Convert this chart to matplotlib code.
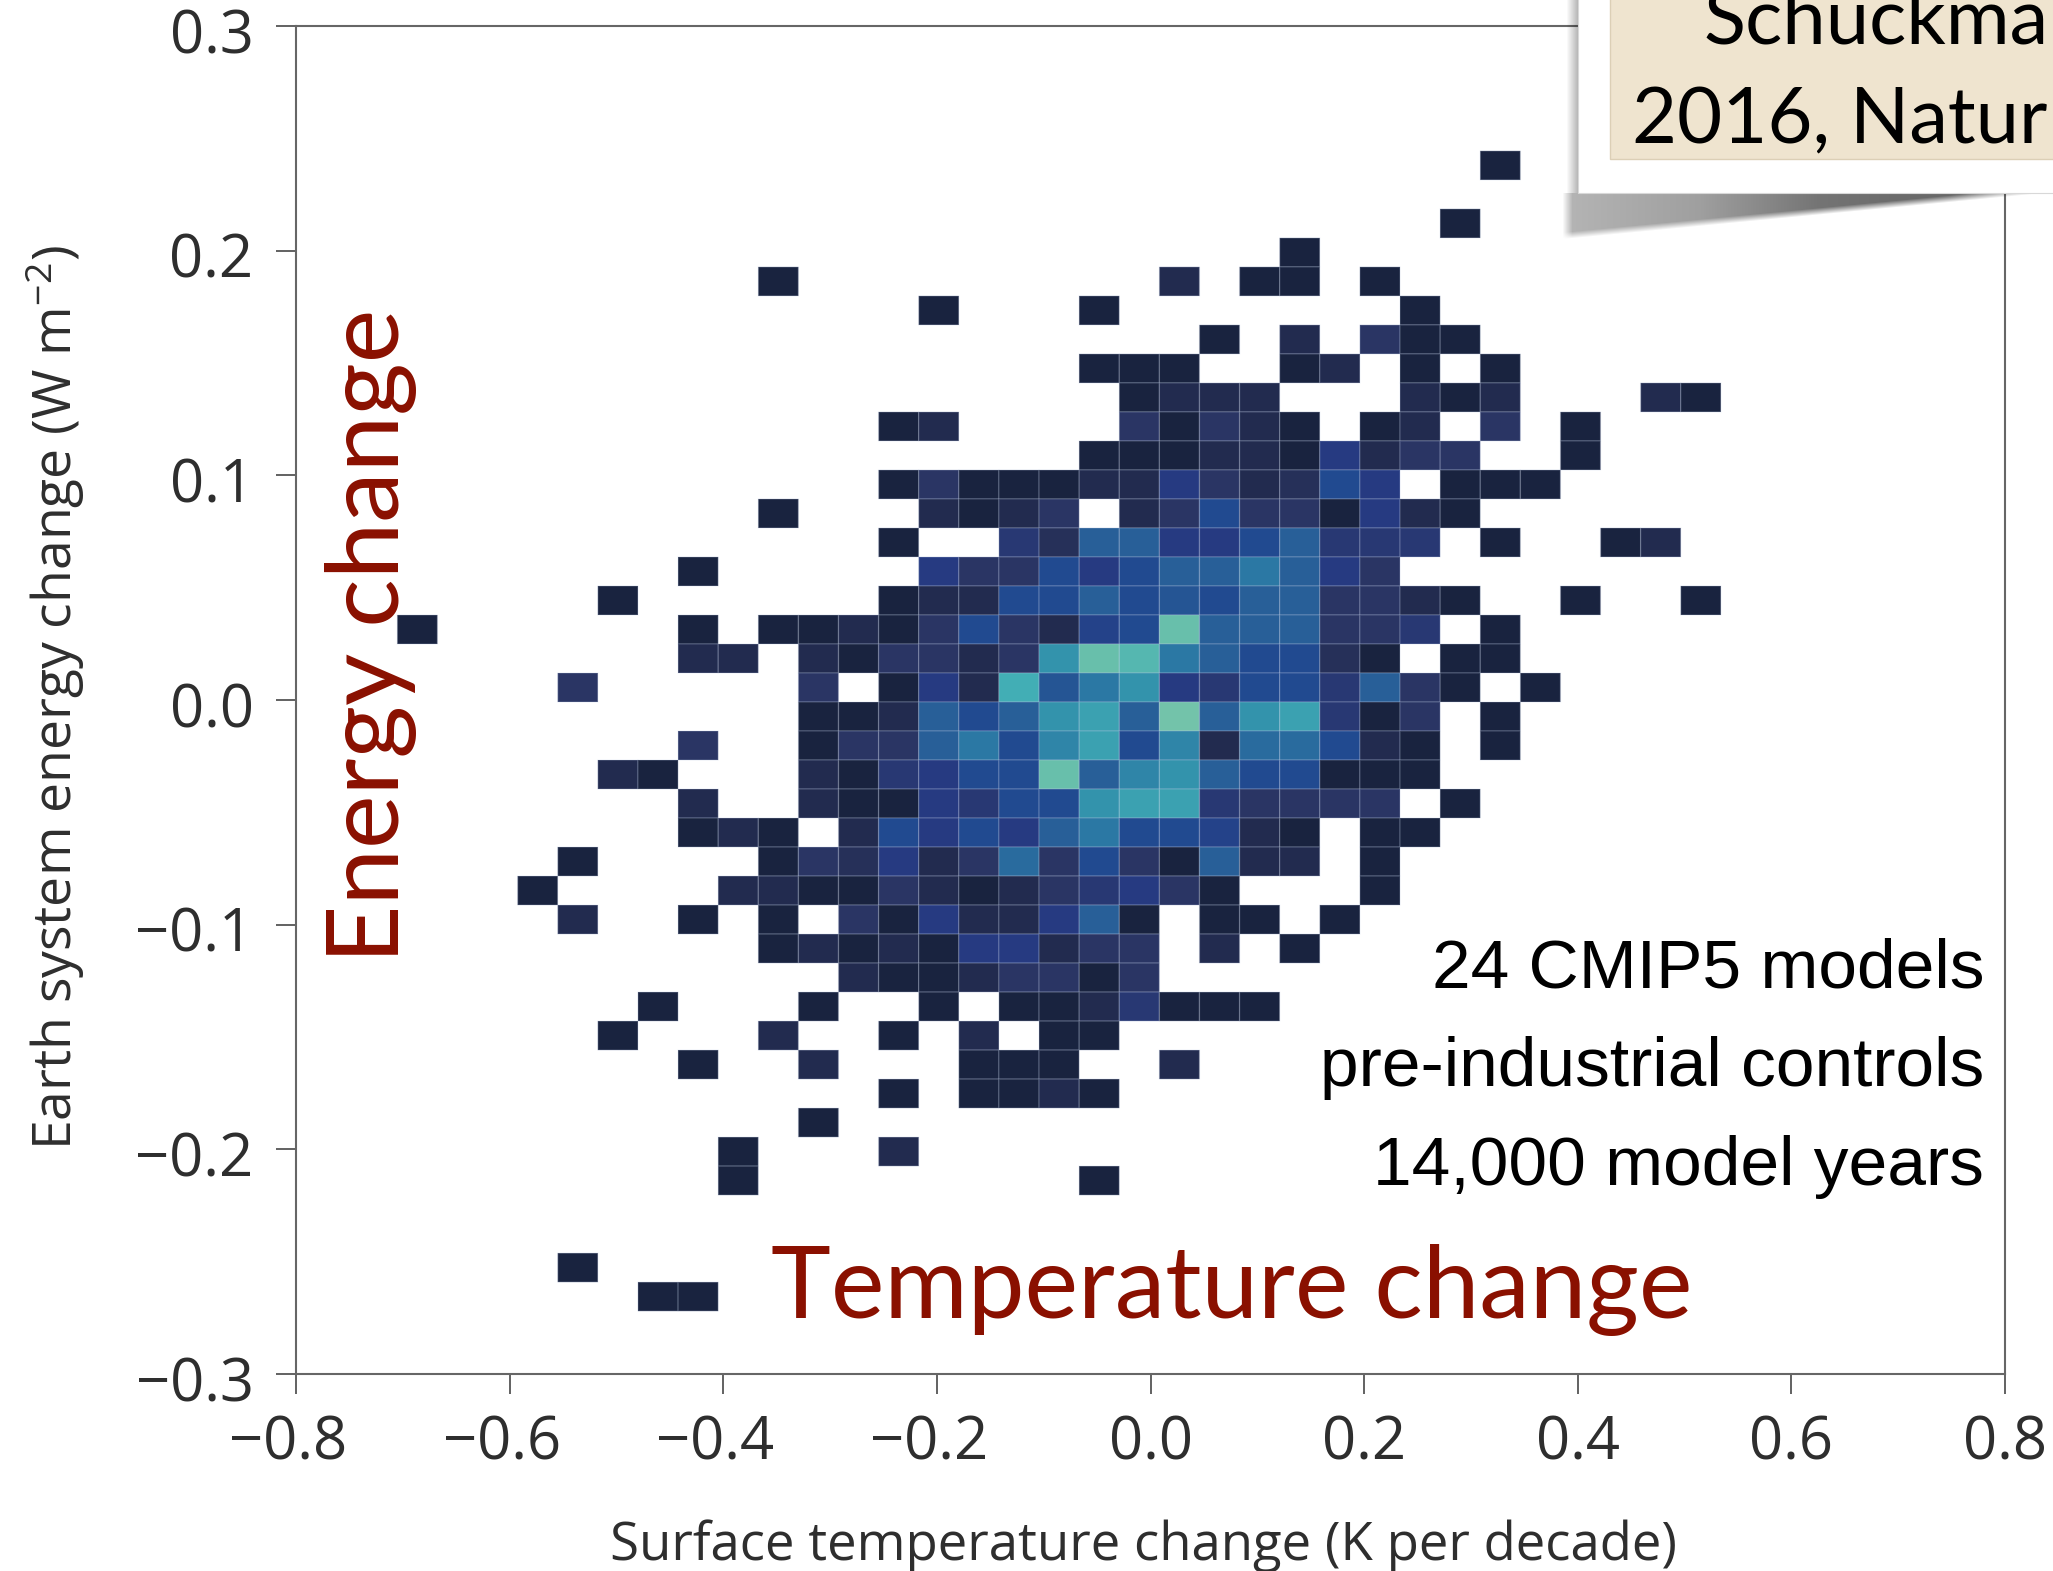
import numpy as np
import matplotlib
matplotlib.use("Agg")
import matplotlib.pyplot as plt
from matplotlib.colors import LinearSegmentedColormap, Normalize
from matplotlib.patches import Rectangle
from matplotlib.transforms import ScaledTranslation

# ---- data: binned 2-D histogram, {column index: relative count} per row, top row first
counts_by_row = [
    {24: 1}, {}, {23: 1}, {19: 1},
    {6: 1, 16: 2, 18: 1, 19: 1, 21: 1},
    {10: 1, 14: 1, 22: 1},
    {17: 1, 19: 2, 21: 3, 22: 1, 23: 1},
    {14: 1, 15: 1, 16: 1, 19: 1, 20: 2, 22: 1, 24: 1},
    {15: 1, 16: 2, 17: 2, 18: 2, 22: 2, 23: 1, 24: 2, 28: 2, 29: 1},
    {9: 1, 10: 2, 15: 3, 16: 1, 17: 3, 18: 2, 19: 1, 21: 1, 22: 2, 24: 3, 26: 1},
    {14: 1, 15: 1, 16: 1, 17: 2, 18: 2, 19: 1, 20: 4, 21: 2, 22: 3, 23: 3, 26: 1},
    {9: 1, 10: 3, 11: 1, 12: 1, 13: 1, 14: 2, 15: 2, 16: 4, 17: 3, 18: 2, 19: 2.5, 20: 5, 21: 4, 23: 1, 24: 1, 25: 1},
    {6: 1, 10: 2, 11: 1, 12: 2, 13: 3, 15: 2, 16: 3, 17: 5, 18: 3, 19: 3, 20: 1, 21: 4, 22: 2, 23: 1},
    {9: 1, 12: 3.5, 13: 2.5, 14: 6, 15: 6, 16: 4, 17: 4, 18: 5, 19: 6, 20: 3.5, 21: 3.5, 22: 3.5, 24: 1, 27: 1, 28: 2},
    {4: 1, 10: 4, 11: 3, 12: 3, 13: 5, 14: 4, 15: 5, 16: 6, 17: 6, 18: 7, 19: 6, 20: 4, 21: 3},
    {2: 1, 9: 1, 10: 2, 11: 2, 12: 5, 13: 5, 14: 6, 15: 5, 16: 5.5, 17: 5, 18: 6, 19: 6, 20: 3, 21: 3, 22: 2, 23: 1, 26: 1, 29: 1},
    {-3: 1, 4: 1, 6: 1, 7: 1, 8: 2, 9: 1, 10: 3, 11: 5, 12: 3, 13: 2, 14: 4.5, 15: 5, 16: 10, 17: 6, 18: 6, 19: 6, 20: 3, 21: 3, 22: 3.5, 24: 1},
    {4: 2, 5: 2, 7: 2, 8: 1, 9: 3, 10: 3, 11: 2, 12: 3, 13: 8, 14: 10, 15: 9.5, 16: 7, 17: 6, 18: 5, 19: 5, 20: 2.5, 21: 1, 23: 1, 24: 1},
    {1: 3, 7: 3, 9: 1, 10: 4, 11: 2, 12: 9, 13: 5.5, 14: 7, 15: 8, 16: 4, 17: 3.5, 18: 5, 19: 5, 20: 3.5, 21: 6, 22: 3, 23: 1, 25: 1},
    {7: 1, 8: 1, 9: 2, 10: 6, 11: 5, 12: 6, 13: 8, 14: 8.5, 15: 6, 16: 10.5, 17: 6, 18: 8, 19: 8.5, 20: 3.5, 21: 1, 22: 3, 24: 1},
    {4: 3, 7: 1, 8: 3, 9: 3, 10: 6, 11: 7, 12: 5, 13: 7.5, 14: 8.5, 15: 5, 16: 7.5, 17: 2, 18: 6.5, 19: 6.5, 20: 5, 21: 2, 22: 1, 24: 1},
    {2: 2, 3: 1, 7: 2, 8: 1, 9: 3.5, 10: 4, 11: 5, 12: 5, 13: 10, 14: 6, 15: 7.5, 16: 8, 17: 6, 18: 5, 19: 5, 20: 1, 21: 1, 22: 1},
    {4: 2, 7: 2, 8: 1, 9: 1, 10: 4, 11: 3.5, 12: 5, 13: 5, 14: 8, 15: 8.5, 16: 8.5, 17: 3.5, 18: 3, 19: 3, 20: 3, 21: 3, 23: 1},
    {4: 1, 5: 2, 6: 1, 8: 2, 9: 5, 10: 4, 11: 5, 12: 4, 13: 6, 14: 7, 15: 5, 16: 5, 17: 4.5, 18: 2, 19: 1, 21: 1, 22: 1},
    {1: 1, 6: 1, 7: 3, 8: 2.5, 9: 4, 10: 2, 11: 3, 12: 6.5, 13: 3, 14: 5, 15: 3, 16: 1, 17: 6, 18: 2, 19: 2, 21: 1},
    {0: 1, 5: 2, 6: 2, 7: 1, 8: 1, 9: 3, 10: 2, 11: 1, 12: 2, 13: 3, 14: 3.5, 15: 4, 16: 3, 17: 1, 21: 1},
    {1: 2, 4: 1, 6: 1, 8: 3, 9: 1, 10: 4, 11: 2, 12: 2, 13: 4, 14: 6, 15: 1, 17: 1, 18: 1, 20: 1},
    {6: 1, 7: 2, 8: 1, 9: 2, 10: 1, 11: 4, 12: 4, 13: 2, 14: 3, 15: 3, 17: 2, 19: 1},
    {8: 2, 9: 1, 10: 1, 11: 2, 12: 3, 13: 3, 14: 1, 15: 3},
    {3: 1, 7: 1, 10: 1, 12: 1, 13: 1, 14: 2, 15: 3.5, 16: 1, 17: 1, 18: 1},
    {2: 1, 6: 2, 9: 1, 11: 2, 13: 1, 14: 1},
    {4: 1, 7: 2, 11: 1, 12: 1, 13: 1, 16: 2},
    {9: 1, 11: 1, 12: 1, 13: 2, 14: 1},
    {7: 1},
    {5: 1, 9: 2},
    {5: 1, 14: 1},
    {}, {},
    {1: 1},
    {3: 1, 4: 1},
]
x_ticks = [-0.8, -0.6, -0.4, -0.2, 0.0, 0.2, 0.4, 0.6, 0.8]
y_ticks = [-0.3, -0.2, -0.1, 0.0, 0.1, 0.2, 0.3]
x_tick_labels = ["\u22120.8", "\u22120.6", "\u22120.4", "\u22120.2", "0.0", "0.2", "0.4", "0.6", "0.8"]
y_tick_labels = ["\u22120.3", "\u22120.2", "\u22120.1", "0.0", "0.1", "0.2", "0.3"]
bin_x_start, bin_x_width = -0.5925, 0.03755
bin_y_top, bin_y_height = 0.2444, 0.01291
shade_colors = ["#19233f", "#222b4f", "#2a3564", "#263a82", "#214a90", "#285f98",
                "#2b78a4", "#3392ac", "#42aeb5", "#68bfab", "#7cc7aa"]

W, H = 2053, 1571
plt.rcParams["font.family"] = ["Open Sans", "DejaVu Sans"]
plt.rcParams["mathtext.fontset"] = "custom"
plt.rcParams["mathtext.rm"] = "Open Sans"
plt.rcParams["mathtext.default"] = "regular"

fig = plt.figure(figsize=(W / 100, H / 100), dpi=100, facecolor="white")
L, R, T, B = 296, 2005, 26, 1374
ax = fig.add_axes([L / W, 1 - B / H, (R - L) / W, (B - T) / H])

col_min = min(min(r) for r in counts_by_row if r)
col_max = max(max(r) for r in counts_by_row if r)
ncol = col_max - col_min + 1
grid = np.full((len(counts_by_row), ncol), np.nan)
for r, row in enumerate(counts_by_row):
    for c, v in row.items():
        grid[r, c - col_min] = v
xe = bin_x_start + bin_x_width * np.arange(col_min, col_max + 2)
ye = bin_y_top - bin_y_height * np.arange(len(counts_by_row) + 1)
cmap = LinearSegmentedColormap.from_list("h", shade_colors)
ax.pcolor(xe, ye, np.ma.masked_invalid(grid), cmap=cmap, norm=Normalize(1, 11),
          edgecolors=(0.75, 0.8, 0.9, 0.22), linewidth=1.0)

ax.set_xlim(-0.8, 0.8)
ax.set_ylim(-0.3, 0.3)
ax.set_xticks(x_ticks, x_tick_labels)
ax.set_yticks(y_ticks, y_tick_labels)
ax.tick_params(axis="both", length=14.4, width=1.3, color="#555555", labelsize=43,
               labelcolor="#2e2e2e", pad=14)
for s in ax.spines.values():
    s.set_color("#666666")
    s.set_linewidth(1.5)

# the minus signs hang left of the ticks; y labels sit slightly under theirs
for lab, txt in zip(ax.get_xticklabels(), x_tick_labels):
    if txt.startswith("\u2212"):
        lab.set_transform(lab.get_transform() + ScaledTranslation(-8 / 100, 0, fig.dpi_scale_trans))
for lab in ax.get_yticklabels():
    lab.set_transform(lab.get_transform() + ScaledTranslation(-3 / 100, -4 / 100, fig.dpi_scale_trans))

ax.set_xlabel("Surface temperature change (K per decade)", fontsize=38, color="#2e2e2e")
ax.xaxis.set_label_coords(0.5, 0, transform=fig.transFigure)
ax.xaxis.label.set_position((1143 / W, 1 - 1560 / H))
ax.xaxis.label.set_verticalalignment("baseline")
ax.yaxis.label.set_rotation(90)
ax.set_ylabel("Earth system energy change (W m$^{\\mathregular{\u22122}}$)", fontsize=38.5, color="#2e2e2e")
ax.yaxis.set_label_coords(72 / W, 1 - 698 / H, transform=fig.transFigure)
ax.yaxis.label.set_verticalalignment("baseline")

# overlay in pixel space: annotations pasted on the figure
ov = fig.add_axes([0, 0, 1, 1], facecolor="none", zorder=5)
ov.set_axis_off()

yy, xx = np.mgrid[193:262, 1550:2053]
h = np.clip(45 * (1 - (xx - 1572) / 470.0), 0, None)
edge = np.clip((h - (yy - 193)) / 7.0, 0, 1) * np.clip((xx - 1562) / 10.0, 0, 1)
amp = np.interp(xx, [1572, 1700, 1820, 1950, 2053], [0.30, 0.38, 0.55, 0.6, 0.35])
rgba = np.zeros(xx.shape + (4,))
rgba[..., 3] = amp * edge
ov.imshow(rgba, extent=(1550, 2053, 262, 193), aspect="auto", zorder=1, interpolation="bilinear")
strip = np.zeros((1, 12, 4))
strip[0, :, 3] = np.linspace(0, 0.28, 12)
ov.imshow(strip, extent=(1566, 1578, 193, 0), aspect="auto", zorder=1, interpolation="bilinear")
ov.add_patch(Rectangle((1578, -10), 500, 203, fc="white", ec="#d8d8d8", lw=0.8, zorder=2))
ov.add_patch(Rectangle((1610, -10), 500, 169, fc="#efe4cf", ec="#dccfb6", lw=1.0, zorder=3))
ov.set_xlim(0, W)
ov.set_ylim(H, 0)

ov.text(1703, 43, "Schuckma", fontsize=56, family="Lato", color="black", va="baseline", zorder=4)
ov.text(1632, 143, "2016, Natur", fontsize=56, family="Lato", color="black", va="baseline", zorder=4)

maroon = "#8a1000"
ov.text(771, 1318, "Temperature change", fontsize=73, family="Lato", color=maroon, va="baseline", zorder=4)
ov.text(399, 963, "Energy change", fontsize=73, family="Lato", color=maroon, rotation=90,
        rotation_mode="anchor", ha="left", va="baseline", zorder=4)

for y, line in zip([987, 1086, 1185], ["24 CMIP5 models", "pre-industrial controls", "14,000 model years"]):
    ov.text(1984, y, line, fontsize=50, family="Liberation Sans", color="black", ha="right", va="baseline", zorder=4)

fig.savefig("out.png", dpi=100, facecolor="white")
